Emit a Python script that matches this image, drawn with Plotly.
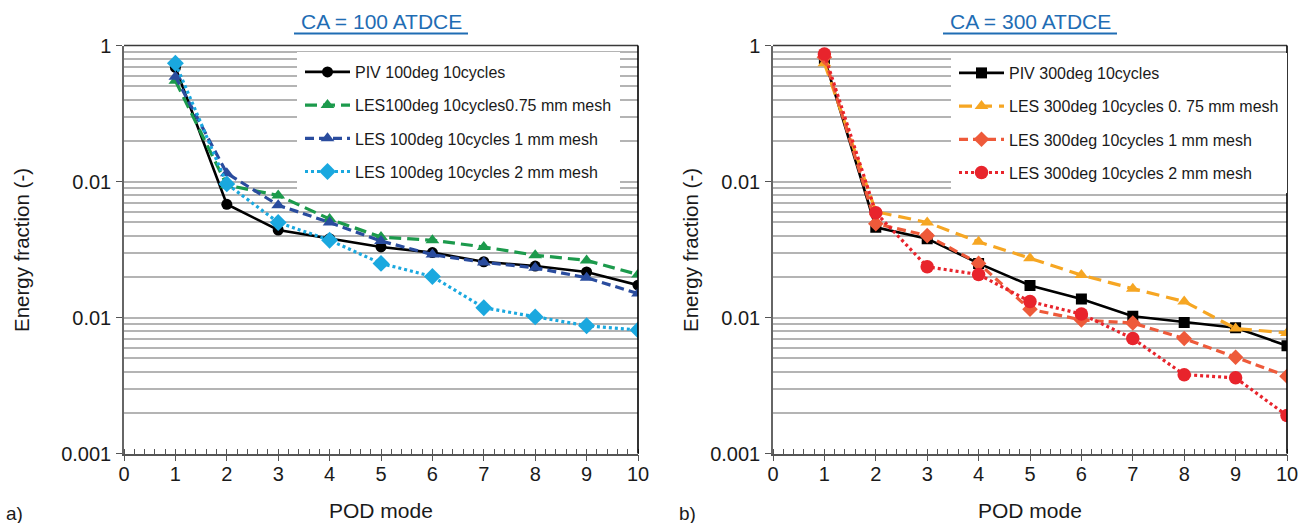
import plotly.graph_objects as go

# POD mode numbers shared by both panels
pod_modes = [1, 2, 3, 4, 5, 6, 7, 8, 9, 10]

# Panel a) CA = 100 ATDCE : energy fraction per POD mode
piv_100 = [0.69, 0.068, 0.044, 0.038, 0.033, 0.030, 0.0257, 0.0239, 0.0216, 0.0173]
les_100_075 = [0.55, 0.094, 0.079, 0.053, 0.039, 0.037, 0.033, 0.0287, 0.0263, 0.0207]
les_100_1 = [0.59, 0.115, 0.067, 0.050, 0.0365, 0.029, 0.0254, 0.0232, 0.0196, 0.0150]
les_100_2 = [0.74, 0.096, 0.050, 0.037, 0.025, 0.020, 0.0118, 0.0101, 0.0087, 0.0081]

# Panel b) CA = 300 ATDCE
piv_300 = [0.80, 0.046, 0.038, 0.025, 0.0172, 0.0137, 0.0102, 0.0092, 0.0084, 0.0062]
les_300_075 = [0.74, 0.060, 0.050, 0.036, 0.0273, 0.0205, 0.0163, 0.0131, 0.0083, 0.0077]
les_300_1 = [0.82, 0.049, 0.040, 0.025, 0.0115, 0.0096, 0.0091, 0.0070, 0.0051, 0.0037]
les_300_2 = [0.865, 0.059, 0.0236, 0.0207, 0.0131, 0.0106, 0.0070, 0.0038, 0.0036, 0.0019]

names_100 = ["PIV 100deg 10cycles", "LES100deg 10cycles0.75 mm mesh",
             "LES 100deg 10cycles 1 mm mesh", "LES 100deg 10cycles 2 mm mesh"]
names_300 = ["PIV 300deg 10cycles", "LES 300deg 10cycles 0. 75 mm mesh",
             "LES 300deg 10cycles 1 mm mesh", "LES 300deg 10cycles 2 mm mesh"]

# Log axis ticks (labels as printed on the figure)
y_tickvals = [0.001, 0.01, 0.1, 1]
y_ticktext = ["0.001", "0.01", "0.01", "1"]
y_minor = [m * 10.0 ** e for e in (-3, -2, -1) for m in range(2, 10)]
x_ticks = [0, 1, 2, 3, 4, 5, 6, 7, 8, 9, 10]

W, H = 1298, 523
FONT = "Liberation Sans, Arial, Helvetica, sans-serif"
TXT = "#1a1a1a"


def fx(px):
    return px / W


def fy(py):
    return 1 - py / H


fig = go.Figure()

styles_100 = [
    dict(color="#000000", dash="solid", width=2.6, symbol="circle", size=11),
    dict(color="#1c9a4c", dash="12px,6px", width=3.2, symbol="triangle-up", size=12),
    dict(color="#2a4c9e", dash="9px,5px", width=3.2, symbol="triangle-up", size=12),
    dict(color="#1aa8df", dash="3px,3px", width=3.2, symbol="diamond", size=13),
]
styles_300 = [
    dict(color="#000000", dash="solid", width=2.6, symbol="square", size=11),
    dict(color="#f6a623", dash="13px,7px", width=3.2, symbol="triangle-up", size=12),
    dict(color="#ee5a3a", dash="9px,5px", width=3.2, symbol="diamond", size=12),
    dict(color="#e8242c", dash="3px,3px", width=3.2, symbol="circle", size=13.5),
]

for i, (vals, name, st) in enumerate(zip([piv_100, les_100_075, les_100_1, les_100_2],
                                         names_100, styles_100)):
    fig.add_trace(go.Scatter(
        x=pod_modes, y=vals, name=name, mode="lines+markers",
        xaxis="x", yaxis="y", legend="legend", legendgroup=f"a{i}",
        line=dict(color=st["color"], dash=st["dash"], width=st["width"]),
        marker=dict(symbol=st["symbol"], size=st["size"], color=st["color"], line=dict(width=0)),
    ))

for i, (vals, name, st) in enumerate(zip([piv_300, les_300_075, les_300_1, les_300_2],
                                         names_300, styles_300)):
    fig.add_trace(go.Scatter(
        x=pod_modes, y=vals, name=name, mode="lines+markers",
        xaxis="x2", yaxis="y2", legend="legend2", legendgroup=f"b{i}",
        line=dict(color=st["color"], dash=st["dash"], width=st["width"]),
        marker=dict(symbol=st["symbol"], size=st["size"], color=st["color"], line=dict(width=0)),
    ))

xaxis_common = dict(
    range=[0, 10], tickmode="array", tickvals=x_ticks, ticks="outside", ticklen=6,
    tickwidth=1.3, tickcolor="#555555", showline=True, linecolor="#555555", linewidth=1.5,
    showgrid=False, zeroline=False, ticklabelstandoff=-4, automargin=False,
    ticklabeloverflow="allow",
    tickfont=dict(family=FONT, size=20, color=TXT),
    minor=dict(dtick=0.2, tick0=0, ticks="inside", ticklen=5, tickwidth=1.2,
               tickcolor="#555555", showgrid=False),
)
yaxis_common = dict(
    type="log", range=[-3, 0], tickmode="array", tickvals=y_tickvals, ticktext=y_ticktext,
    ticks="outside", ticklen=6, tickwidth=1.3, tickcolor="#555555",
    showline=True, linecolor="#666666", linewidth=1.5, automargin=False,
    ticklabeloverflow="allow",
    showgrid=True, gridcolor="#b4b4b4", gridwidth=1.5, zeroline=False,
    tickfont=dict(family=FONT, size=20, color=TXT), ticklabelstandoff=1,
    minor=dict(tickmode="array", tickvals=y_minor, ticks="", showgrid=True,
               gridcolor="#b4b4b4", gridwidth=1.5),
)

legend_common = dict(xanchor="left", yanchor="top", bgcolor="white",
                     bordercolor="white", borderwidth=3,
                     font=dict(family=FONT, size=16, color=TXT),
                     itemwidth=45, tracegroupgap=9.4, traceorder="grouped")

y_dom = [fy(453.5), fy(45.5)]
fig.update_layout(
    width=W, height=H,
    margin=dict(l=0, r=0, t=0, b=0, pad=0, autoexpand=False),
    paper_bgcolor="white", plot_bgcolor="white",
    font=dict(family=FONT, color=TXT),
    xaxis=dict(domain=[fx(124), fx(638)], anchor="y", **xaxis_common),
    yaxis=dict(domain=y_dom, anchor="x", **yaxis_common),
    xaxis2=dict(domain=[fx(773), fx(1287)], anchor="y2", **xaxis_common),
    yaxis2=dict(domain=y_dom, anchor="x2", **yaxis_common),
    legend=dict(x=fx(297), y=fy(52), **legend_common),
    legend2=dict(x=fx(951), y=fy(53), **legend_common),
    showlegend=True,
)

# Frame: dark top edge and black right edge of each plot area
for xr, yr in (("x domain", "y domain"), ("x2 domain", "y2 domain")):
    fig.add_shape(type="line", xref=xr, yref=yr, x0=0, x1=1, y0=1, y1=1,
                  line=dict(color="#3a3a3a", width=1.5))
    fig.add_shape(type="line", xref=xr, yref=yr, x0=1, x1=1, y0=0, y1=1,
                  line=dict(color="#000000", width=1.6))

# Panel titles with underline
TITLE_BLUE = "#1f6db4"
for cx, text in ((381, "CA = 100 ATDCE"), (1030, "CA = 300 ATDCE")):
    fig.add_annotation(x=fx(cx), y=fy(22), xref="paper", yref="paper", text=text,
                       showarrow=False, xanchor="center", yanchor="middle",
                       font=dict(family=FONT, size=21, color=TITLE_BLUE))
    fig.add_shape(type="line", xref="paper", yref="paper", x0=fx(cx - 87), x1=fx(cx + 87),
                  y0=fy(33.5), y1=fy(33.5), line=dict(color=TITLE_BLUE, width=1.8))

# Axis titles and panel tags
for cx in (381, 1030):
    fig.add_annotation(x=fx(cx), y=fy(510), xref="paper", yref="paper", text="POD mode",
                       showarrow=False, xanchor="center", yanchor="middle",
                       font=dict(family=FONT, size=21, color=TXT))
for cx in (21, 690):
    fig.add_annotation(x=fx(cx), y=fy(250), xref="paper", yref="paper",
                       text="Energy fraction (-)", textangle=-90, showarrow=False,
                       xanchor="center", yanchor="middle",
                       font=dict(family=FONT, size=20.5, color=TXT))
for cx, tag in ((14, "a)"), (687, "b)")):
    fig.add_annotation(x=fx(cx), y=fy(513), xref="paper", yref="paper", text=tag,
                       showarrow=False, xanchor="center", yanchor="middle",
                       font=dict(family=FONT, size=19, color=TXT))

fig.write_html("out.html")
